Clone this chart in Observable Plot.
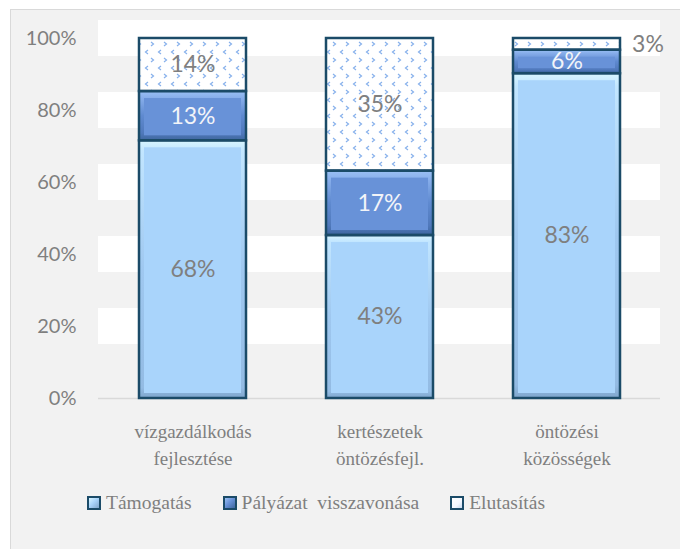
<!DOCTYPE html>
<html>
<head>
<meta charset="utf-8">
<script src="https://cdn.jsdelivr.net/npm/d3@7"></script>
<script src="https://cdn.jsdelivr.net/npm/@observablehq/plot@0.6"></script>
<style>
  body { margin: 0; background: #ffffff; width: 680px; height: 549px; overflow: hidden; position: relative; }
  #bg { position: absolute; left: 10px; top: 9px; right: 0; bottom: 0; background: #f2f2f2; border-left: 1px solid #d9d9d9; border-top: 1px solid #d9d9d9; }
  #chart { position: absolute; left: 0; top: 0; }
  #legend { position: absolute; left: 87px; top: 491px; display: flex; align-items: center; gap: 31px;
            font-family: "Liberation Serif", "DejaVu Serif", "Times New Roman", Times, serif; font-size: 19.5px; line-height: 24px; color: #7f7f7f; white-space: pre; }
  .item { display: flex; align-items: center; gap: 5px; }
  .sw { width: 10px; height: 10px; border: 2px solid #1b4b68; box-sizing: content-box; }
</style>
</head>
<body>
<div id="bg"></div>
<div id="chart"></div>
<div id="legend"></div>
<script>
// ---- data ----
const categories = ["vízgazdálkodás\nfejlesztése", "kertészetek\nöntözésfejl.", "öntözési\nközösségek"];
const series = ["Támogatás", "Pályázat  visszavonása", "Elutasítás"];
const tamogatas = [68, 43, 83];
const visszavonas = [13, 17, 6];
const elutasitas = [14, 35, 3];
const yTicks = [0, 0.2, 0.4, 0.6, 0.8, 1];
const bandCenters = [0.2, 0.4, 0.6, 0.8, 1.0];

const valuesBySeries = [tamogatas, visszavonas, elutasitas];
const data = [];
series.forEach((s, si) => categories.forEach((c, ci) => data.push({category: c, series: s, value: valuesBySeries[si][ci]})));

const edgeFill = {"Támogatás": "url(#gTam)", "Pályázat  visszavonása": "url(#gPal)", "Elutasítás": "url(#pElu)"};
const flatFill = {"Támogatás": "#a9d4fb", "Pályázat  visszavonása": "#6892d8", "Elutasítás": "none"};
const stackOpts = {offset: "normalize", order: null};

const gray = "#7f7f7f";
const serifFont = "'Liberation Serif', 'DejaVu Serif', 'Times New Roman', Times, serif";

const plot = Plot.plot({
  width: 680,
  height: 470,
  marginLeft: 98,
  marginRight: 20,
  marginTop: 38,
  marginBottom: 72,
  style: {background: "transparent", fontFamily: "Lato, sans-serif", fontSize: "20px", color: gray},
  x: {domain: categories, axis: null, paddingInner: 0.43, paddingOuter: 0.215},
  y: {domain: [0, 1], ticks: yTicks, tickFormat: d3.format(".0%"), tickSize: 0, tickPadding: 22, label: null},
  color: {type: "identity"},
  marks: [
    Plot.rect(bandCenters, {y1: d => d - 0.05, y2: d => d + 0.05, fill: "#ffffff"}),
    Plot.ruleY([0], {stroke: "#d9d9d9", strokeWidth: 1.5}),
    Plot.barY(data, Plot.stackY(stackOpts, {x: "category", y: "value", z: "series", fill: d => edgeFill[d.series], ariaLabel: "bar-edge"})),
    Plot.barY(data, Plot.stackY(stackOpts, {x: "category", y: "value", z: "series", fill: d => flatFill[d.series], insetTop: 7, insetBottom: 5, insetLeft: 5, insetRight: 5})),
    Plot.barY(data, Plot.stackY(stackOpts, {x: "category", y: "value", z: "series", fill: "none", stroke: "#1b4b68", strokeWidth: 2.5})),
    Plot.text(data, Plot.stackY(stackOpts, {x: "category", y: "value", z: "series",
      text: d => (d.series !== series[1] && d.value >= 5) ? d.value + "%" : "",
      fill: gray, fontSize: 23, fontFamily: "Lato, sans-serif"})),
    Plot.text(data, Plot.stackY(stackOpts, {x: "category", y: "value", z: "series",
      text: d => d.series === series[1] ? d.value + "%" : "",
      fill: "#f2f4f8", fontSize: 23, fontFamily: "Lato, sans-serif"})),
    Plot.text(data, Plot.stackY(stackOpts, {x: "category", y: "value", z: "series",
      text: d => (d.series !== series[1] && d.value < 5) ? d.value + "%" : "",
      fill: gray, fontSize: 23, fontFamily: "Lato, sans-serif", dx: 81})),
    Plot.text(categories, {x: d => d, text: d => d, frameAnchor: "bottom", lineAnchor: "top", dy: 21.5,
      lineHeight: 1.37, fill: gray, fontSize: 19, fontFamily: serifFont})
  ]
});

const svg = d3.select(plot);
svg.insert("defs", ":first-child").html(`
  <linearGradient id="gTam" x1="0" y1="0" x2="0" y2="1">
    <stop offset="0" stop-color="#d8f6ff"/>
    <stop offset="0.04" stop-color="#c2e6ff"/>
    <stop offset="0.5" stop-color="#9fc8f0"/>
    <stop offset="0.96" stop-color="#93bbe3"/>
    <stop offset="1" stop-color="#7fa6cc"/>
  </linearGradient>
  <linearGradient id="gPal" x1="0" y1="0" x2="0" y2="1">
    <stop offset="0" stop-color="#9ac0f4"/>
    <stop offset="0.15" stop-color="#86adea"/>
    <stop offset="0.5" stop-color="#5f8ad0"/>
    <stop offset="0.85" stop-color="#5079bc"/>
    <stop offset="1" stop-color="#3f679f"/>
  </linearGradient>
  <pattern id="pElu" width="13" height="16" patternUnits="userSpaceOnUse">
    <rect width="13" height="16" fill="#ffffff"/>
    <path d="M5,2 L2.5,4 L5,6 M8,10 L10.5,12 L8,14" fill="none" stroke="#86b0ec" stroke-width="1.2"/>
  </pattern>
  <filter id="shadow" x="-20%" y="-20%" width="140%" height="140%">
    <feDropShadow dx="4" dy="2" stdDeviation="3" flood-color="#000000" flood-opacity="0.3"/>
  </filter>
`);
svg.selectAll('g[aria-label="bar-edge"]').attr("filter", "url(#shadow)");

document.getElementById("chart").appendChild(plot);

// ---- legend ----
const swatchBg = {
  "Támogatás": "linear-gradient(135deg, #d8f6ff, #a9d4fb 45%, #7fa6cc)",
  "Pályázat  visszavonása": "linear-gradient(135deg, #9ac0f4, #6892d8 45%, #3f679f)",
  "Elutasítás": "linear-gradient(135deg, #ffffff, #f4f8ff 60%, #c8d8ee)"
};
const legend = document.getElementById("legend");
series.forEach(s => {
  const item = document.createElement("div");
  item.className = "item";
  const sw = document.createElement("div");
  sw.className = "sw";
  sw.style.background = swatchBg[s];
  const label = document.createElement("span");
  label.textContent = s;
  item.appendChild(sw);
  item.appendChild(label);
  legend.appendChild(item);
});
</script>
</body>
</html>
